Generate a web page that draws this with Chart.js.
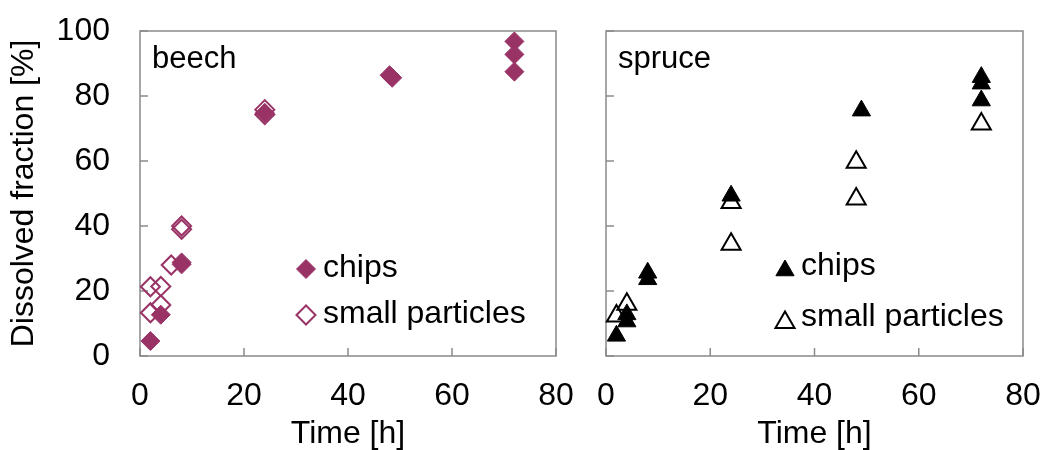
<!DOCTYPE html>
<html>
<head>
<meta charset="utf-8">
<script src="https://cdn.jsdelivr.net/npm/chart.js@4/dist/chart.umd.min.js"></script>
<style>
  body { margin: 0; background: #fff; width: 1043px; height: 450px; overflow: hidden; position: relative; }
  canvas { position: absolute; top: 0; }
</style>
</head>
<body>
<canvas id="beech" width="585" height="450" style="left:0"></canvas>
<canvas id="spruce" width="458" height="450" style="left:585px"></canvas>
<script>
// axis ticks
const xTicks = [0, 20, 40, 60, 80];
const yTicks = [0, 20, 40, 60, 80, 100];

// beech - time [h] and dissolved fraction [%]
const beechChipsT = [2, 4, 8, 8, 24, 48, 48.5, 72, 72, 72];
const beechChipsY = [4.6, 12.7, 28.2, 28.8, 74.8, 86.4, 85.6, 96.8, 92.8, 87.5];
const beechSmallT = [2, 2, 4, 4, 6, 8, 8, 24, 24];
const beechSmallY = [21.3, 13.3, 21.4, 15.7, 28, 40, 39, 75.8, 74.3];

// spruce
const spruceChipsT = [2, 4, 4, 8, 8, 24, 49, 72, 72, 72];
const spruceChipsY = [6.2, 10.6, 12.8, 23.6, 25.6, 49.3, 75.5, 85.8, 83.8, 78.6];
const spruceSmallT = [2, 4, 24, 24, 48, 48, 72];
const spruceSmallY = [12.3, 15.9, 47.2, 34.4, 59.6, 48.3, 71.4];

const FONT = "'Liberation Sans', Arial, sans-serif";
const plum = '#993366';
const axisGrey = '#8a8a8a';

function pts(t, y) {
    return t.map((v, i) => ({ x: v, y: y[i] }));
}

// box round the plot area, ticks pointing inward
const frame = {
    id: 'frame',
    beforeDatasetsDraw(chart) {
        const { ctx, chartArea: a, scales: { x, y } } = chart;
        ctx.save();
        ctx.strokeStyle = axisGrey;
        ctx.lineWidth = 1.5;
        ctx.strokeRect(a.left, a.top, a.width, a.height);
        ctx.beginPath();
        xTicks.forEach(v => {
            const px = x.getPixelForValue(v);
            ctx.moveTo(px, a.bottom);
            ctx.lineTo(px, a.bottom - 8);
        });
        yTicks.forEach(v => {
            const py = y.getPixelForValue(v);
            ctx.moveTo(a.left, py);
            ctx.lineTo(a.left + 8, py);
        });
        ctx.stroke();
        ctx.restore();
    }
};

// panel name + legend inside the plot area
const panel = {
    id: 'panel',
    afterDraw(chart, args, opts) {
        const { ctx, chartArea: a } = chart;
        ctx.save();
        ctx.fillStyle = '#000';
        ctx.font = '31px ' + FONT;
        ctx.textBaseline = 'alphabetic';
        ctx.fillText(opts.label, a.left + 12, a.top + 37);

        ctx.font = '32px ' + FONT;
        chart.data.datasets.forEach((ds, i) => {
            const it = opts.items[i];
            const mx = a.left + opts.lx;
            const my = a.top + it.y;
            ctx.fillStyle = ds.backgroundColor;
            ctx.strokeStyle = ds.borderColor;
            ctx.lineWidth = ds.borderWidth;
            Chart.helpers.drawPoint(ctx, {
                pointStyle: ds.pointStyle,
                radius: ds.pointRadius,
                borderWidth: ds.borderWidth,
                rotation: 0
            }, mx, my);
            ctx.fillStyle = '#000';
            ctx.textBaseline = 'middle';
            ctx.fillText(ds.label, mx + opts.tx, a.top + it.ty);
        });
        ctx.restore();
    }
};

function makePanel(id, cfg) {
    return new Chart(document.getElementById(id), {
        type: 'scatter',
        data: {
            datasets: [
                {
                    label: 'chips',
                    data: pts(cfg.chipsT, cfg.chipsY),
                    pointStyle: cfg.style,
                    pointRadius: cfg.radius,
                    backgroundColor: cfg.color,
                    borderColor: cfg.color,
                    borderWidth: 1,
                    clip: false
                },
                {
                    label: 'small particles',
                    data: pts(cfg.smallT, cfg.smallY),
                    pointStyle: cfg.style,
                    pointRadius: cfg.openRadius,
                    backgroundColor: 'rgba(255,255,255,0)',
                    borderColor: cfg.color,
                    borderWidth: 2,
                    clip: false
                }
            ]
        },
        options: {
            responsive: false,
            animation: false,
            layout: { padding: { top: 31, right: cfg.padRight, left: 0, bottom: 0 } },
            plugins: {
                legend: { display: false },
                tooltip: { enabled: false },
                panel: { label: cfg.label, lx: cfg.lx, tx: cfg.tx, items: cfg.items }
            },
            scales: {
                x: {
                    type: 'linear',
                    min: 0,
                    max: 80,
                    afterBuildTicks: s => { s.ticks = xTicks.map(v => ({ value: v })); },
                    afterFit: s => {
                        s.height = 94;
                        s.paddingLeft = 0;
                        s.paddingRight = 0;
                    },
                    grid: { display: false, drawTicks: false },
                    border: { display: false },
                    ticks: { padding: 21, color: '#000', maxRotation: 0, font: { size: 32, family: FONT } },
                    title: {
                        display: true,
                        text: 'Time [h]',
                        color: '#000',
                        padding: 0,
                        font: { size: 32, family: FONT, lineHeight: 1 }
                    }
                },
                y: {
                    min: 0,
                    max: 100,
                    afterBuildTicks: s => { s.ticks = yTicks.map(v => ({ value: v })); },
                    afterFit: s => {
                        s.width = cfg.yWidth;
                        s.paddingTop = 0;
                        s.paddingBottom = 0;
                    },
                    grid: { display: false, drawTicks: false },
                    border: { display: false },
                    ticks: { display: cfg.showY, padding: 30, color: '#000', font: { size: 32, family: FONT } },
                    title: {
                        display: cfg.showY,
                        text: 'Dissolved fraction [%]',
                        color: '#000',
                        padding: { top: 8, bottom: 0 },
                        font: { size: 32, family: FONT, lineHeight: 1 }
                    }
                }
            }
        },
        plugins: [frame, panel]
    });
}

makePanel('beech', {
    label: 'beech',
    chipsT: beechChipsT, chipsY: beechChipsY,
    smallT: beechSmallT, smallY: beechSmallY,
    style: 'rectRot', radius: 9.5, openRadius: 9.5, color: plum,
    yWidth: 140, padRight: 29, showY: true,
    lx: 166, tx: 17,
    items: [{ y: 238, ty: 237 }, { y: 284, ty: 283.5 }]
});

makePanel('spruce', {
    label: 'spruce',
    chipsT: spruceChipsT, chipsY: spruceChipsY,
    smallT: spruceSmallT, smallY: spruceSmallY,
    style: 'triangle', radius: 10.5, openRadius: 11, color: '#000',
    yWidth: 21, padRight: 20, showY: false,
    lx: 179, tx: 16,
    items: [{ y: 239.5, ty: 235.5 }, { y: 291.5, ty: 286.5 }]
});
</script>
</body>
</html>
